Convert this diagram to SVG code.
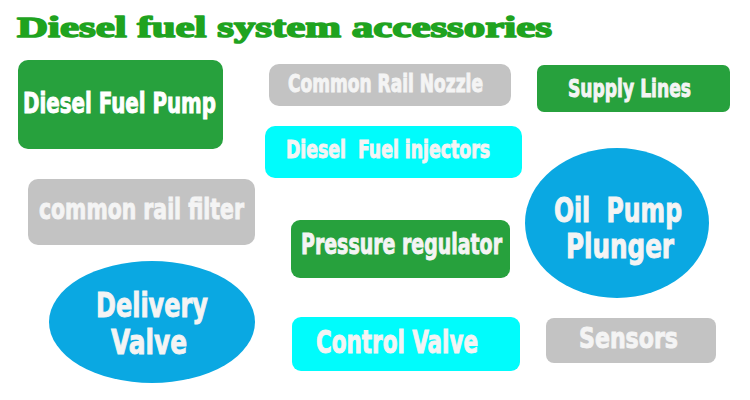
<svg xmlns="http://www.w3.org/2000/svg" width="750" height="400" viewBox="0 0 750 400">
<style>
.green{fill:#27a13d}
.gray{fill:#c3c3c3}
.cyan{fill:#00fcfc}
.blue{fill:#0aa8e2}
.lbl{font-family:"Liberation Sans Narrow","DejaVu Sans Condensed","Liberation Sans",sans-serif;font-weight:bold;fill:#ffffff;stroke:#ffffff;stroke-width:0.9;white-space:pre}
.lg{fill:#f4f4f4;stroke:#f4f4f4}
.title{font-family:"Liberation Serif","DejaVu Serif",serif;font-weight:bold;fill:#1fa31f;stroke:#1fa31f;stroke-width:1.6;stroke-linejoin:round}
</style>
<rect width="750" height="400" fill="#ffffff"/>
<text class="title" x="17" y="37" font-size="30" textLength="535" lengthAdjust="spacingAndGlyphs">Diesel fuel system accessories</text>
<g id="connectors"/>
<g id="diesel-fuel-pump">
<rect class="green" x="18" y="60" width="205" height="89" rx="10"/>
<text class="lbl" x="23" y="113" font-size="28" textLength="193" lengthAdjust="spacingAndGlyphs">Diesel Fuel Pump</text>
</g>
<g id="common-rail-nozzle">
<rect class="gray" x="269" y="64" width="242" height="42" rx="10"/>
<text class="lbl lg" x="288" y="92" font-size="24" textLength="195" lengthAdjust="spacingAndGlyphs">Common Rail Nozzle</text>
</g>
<g id="supply-lines">
<rect class="green" x="537" y="65" width="193" height="47" rx="7"/>
<text class="lbl lg" x="568" y="97" font-size="25" textLength="123" lengthAdjust="spacingAndGlyphs">Supply Lines</text>
</g>
<g id="diesel-fuel-injectors">
<rect class="cyan" x="265" y="126" width="257" height="52" rx="10"/>
<text class="lbl lg" x="286" y="158" font-size="24" textLength="204" lengthAdjust="spacingAndGlyphs" xml:space="preserve">Diesel  Fuel injectors</text>
</g>
<g id="common-rail-filter">
<rect class="gray" x="28" y="179" width="227" height="66" rx="10"/>
<text class="lbl lg" x="39" y="219" font-size="29" textLength="205" lengthAdjust="spacingAndGlyphs">common rail filter</text>
</g>
<g id="oil-pump-plunger">
<ellipse class="blue" cx="617" cy="223" rx="92" ry="75"/>
<text class="lbl lg" x="554" y="222" font-size="34" textLength="128" lengthAdjust="spacingAndGlyphs" xml:space="preserve">Oil  Pump</text>
<text class="lbl lg" x="566" y="258" font-size="33" textLength="108" lengthAdjust="spacingAndGlyphs">Plunger</text>
</g>
<g id="pressure-regulator">
<rect class="green" x="291" y="220" width="219" height="58" rx="9"/>
<text class="lbl lg" x="301" y="254" font-size="28" textLength="201" lengthAdjust="spacingAndGlyphs">Pressure regulator</text>
</g>
<g id="delivery-valve">
<ellipse class="blue" cx="152" cy="322" rx="103" ry="61"/>
<text class="lbl lg" x="96" y="317" font-size="34" textLength="112" lengthAdjust="spacingAndGlyphs">Delivery</text>
<text class="lbl lg" x="111" y="354" font-size="34" textLength="76" lengthAdjust="spacingAndGlyphs">Valve</text>
</g>
<g id="control-valve">
<rect class="cyan" x="292" y="317" width="228" height="54" rx="9"/>
<text class="lbl lg" x="316" y="353" font-size="32" textLength="162" lengthAdjust="spacingAndGlyphs">Control Valve</text>
</g>
<g id="sensors">
<rect class="gray" x="546" y="318" width="170" height="45" rx="8"/>
<text class="lbl lg" x="579" y="348" font-size="29" textLength="99" lengthAdjust="spacingAndGlyphs">Sensors</text>
</g>
</svg>
